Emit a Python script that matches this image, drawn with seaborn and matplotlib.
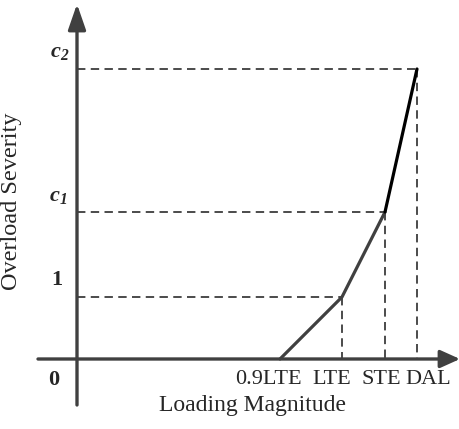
import numpy as np
import pandas as pd
import matplotlib
matplotlib.use("Agg")
import matplotlib.pyplot as plt
import seaborn as sns

# break points of the overload-severity curve (drawing units)
x_labels = ["0.9LTE", "LTE", "STE", "DAL"]
x_pos = [203, 265, 308, 340]
y_labels = ["0", "1", "$\\mathbfit{c}_\\mathbfit{1}$", "$\\mathbfit{c}_\\mathbfit{2}$"]
y_pos = [0, 62, 147, 290]

sns.set_theme(style="white")
plt.rcParams["font.family"] = ["Liberation Serif", "DejaVu Serif"]
plt.rcParams["mathtext.fontset"] = "custom"
plt.rcParams["mathtext.rm"] = "Liberation Serif"
plt.rcParams["mathtext.it"] = "Liberation Serif:italic"
plt.rcParams["mathtext.bf"] = "Liberation Serif:bold"
plt.rcParams["mathtext.bfit"] = "Liberation Serif:bold:italic"

fig = plt.figure(figsize=(4.6, 4.29), dpi=100)
ax = fig.add_axes([0, 0, 1, 1])
ax.set_xlim(-77, 383)
ax.set_ylim(-70, 359)
ax.axis("off")

axis_col = "#404040"

# axes with arrow heads
ax.annotate("", xy=(0, 355), xytext=(0, -46),
            arrowprops=dict(arrowstyle="-|>,head_length=1.3,head_width=0.45",
                            color=axis_col, lw=2.4, shrinkA=0, shrinkB=0))
ax.annotate("", xy=(383, 0), xytext=(-39, 0),
            arrowprops=dict(arrowstyle="-|>,head_length=1.0,head_width=0.45",
                            color=axis_col, lw=2.4, shrinkA=0, shrinkB=0))

# dashed guide lines
for xp, yp in zip(x_pos[1:], y_pos[1:]):
    ax.plot([0, xp], [yp, yp], color="#1a1a1a", lw=1.1, ls=(0, (5.5, 3.5)))
    ax.plot([xp, xp], [yp, 0], color="#1a1a1a", lw=1.1, ls=(0, (5.5, 3.5)))

# curve: grey part up to STE, black steep part to DAL
df = pd.DataFrame({"x": x_pos, "y": y_pos})
sns.lineplot(data=df.iloc[:3], x="x", y="y", ax=ax, color=axis_col, lw=2.3,
             sort=False, estimator=None)
sns.lineplot(data=df.iloc[2:], x="x", y="y", ax=ax, color="black", lw=2.3,
             sort=False, estimator=None)

# tick labels
x_off = [-12, -10, -4, 11]
for lab, xp, dx in zip(x_labels, x_pos, x_off):
    ax.text(xp + dx, -21, lab, ha="center", va="center", fontsize=16)
y_off = [(-23, -21), (-20, 17), (-19, 16), (-17, 17)]
for lab, yp, (dx, dy) in zip(y_labels, y_pos, y_off):
    ax.text(dx, yp + dy, lab, ha="center", va="center",
            fontsize=16, fontweight="bold")

ax.text(176, -47, "Loading Magnitude", ha="center", va="center", fontsize=17)
ax.text(-65, 158, "Overload Severity", ha="center", va="center",
        rotation=90, fontsize=17.5)

fig.savefig("out.png", dpi=100)
